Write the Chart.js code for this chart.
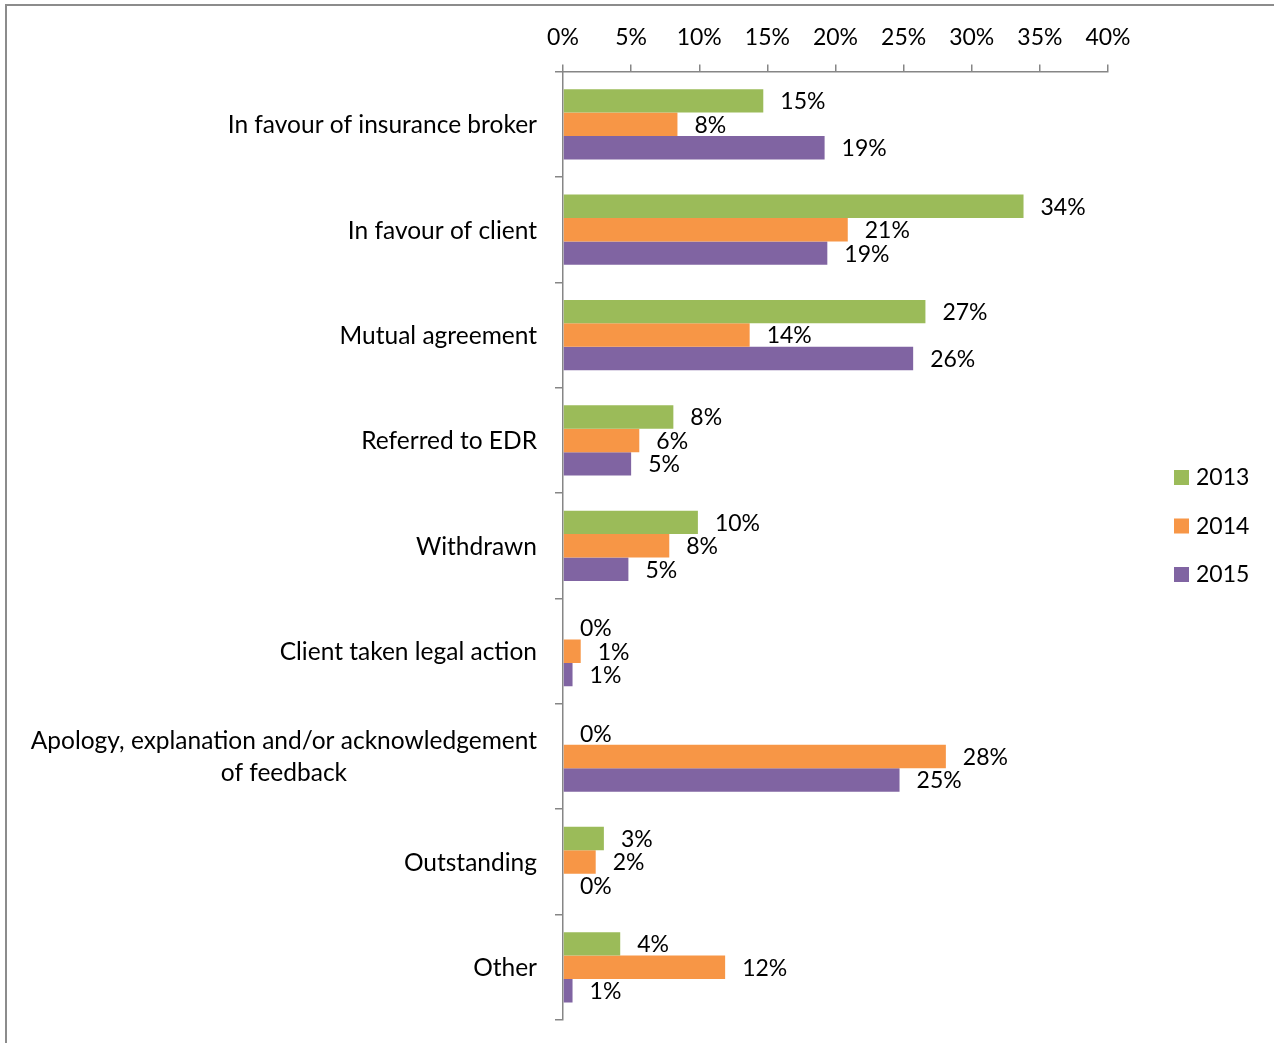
<!DOCTYPE html>
<html>
<head>
<meta charset="utf-8">
<script src="https://cdn.jsdelivr.net/npm/chart.js@4.4.1/dist/chart.umd.min.js"></script>
<style>
  html, body { margin: 0; padding: 0; background: #fff; }
  #wrap { position: relative; width: 1274px; height: 1043px; overflow: hidden; }
  #frame { position: absolute; left: 5px; top: 4px; width: 1300px; height: 1100px;
           border-left: 2px solid #8c8c8c; border-top: 2px solid #8c8c8c; }
  canvas { position: absolute; left: 0; top: 0; }
</style>
</head>
<body>
<div id="wrap">
  <div id="frame"></div>
  <canvas id="chart" width="1274" height="1043"></canvas>
</div>
<script>
var categories = [
  ["In favour of insurance broker"],
  ["In favour of client"],
  ["Mutual agreement"],
  ["Referred to EDR"],
  ["Withdrawn"],
  ["Client taken legal action"],
  ["Apology, explanation and/or acknowledgement", "of feedback"],
  ["Outstanding"],
  ["Other"]
];
var years = ["2013", "2014", "2015"];
var values2013 = [14.7, 33.8, 26.6, 8.1, 9.9, 0, 0, 3.0, 4.2];
var values2014 = [8.4, 20.9, 13.7, 5.6, 7.8, 1.3, 28.1, 2.4, 11.9];
var values2015 = [19.2, 19.4, 25.7, 5.0, 4.8, 0.7, 24.7, 0, 0.7];
var xTicks = [0, 5, 10, 15, 20, 25, 30, 35, 40];

var colors = ["#9bbb59", "#f79646", "#8064a2"];
var fontFamily = "Lato, 'Open Sans', sans-serif";
var axisGray = "#868686";

// value labels at the end of each bar
var barLabels = {
  id: "barLabels",
  afterDatasetsDraw: function (chart) {
    var ctx = chart.ctx;
    ctx.save();
    ctx.font = "23px " + fontFamily;
    ctx.fillStyle = "#000";
    ctx.textAlign = "left";
    ctx.textBaseline = "middle";
    chart.data.datasets.forEach(function (ds, i) {
      chart.getDatasetMeta(i).data.forEach(function (bar, j) {
        ctx.fillText(Math.round(ds.data[j]) + "%", bar.x + 17, bar.y + 1);
      });
    });
    ctx.restore();
  }
};

// category names, right aligned block with centred lines
var categoryLabels = {
  id: "categoryLabels",
  afterDraw: function (chart) {
    var ctx = chart.ctx;
    var yScale = chart.scales.y;
    var right = chart.chartArea.left - 26;
    var lineH = 32;
    ctx.save();
    ctx.font = "24.5px " + fontFamily;
    ctx.fillStyle = "#000";
    ctx.textAlign = "center";
    ctx.textBaseline = "middle";
    categories.forEach(function (lines, i) {
      var w = 0;
      lines.forEach(function (l) { w = Math.max(w, ctx.measureText(l).width); });
      var cx = right - w / 2;
      var cy = yScale.getPixelForValue(i) + 1;
      var y0 = cy - (lines.length - 1) * lineH / 2;
      lines.forEach(function (l, k) {
        ctx.fillText(l, cx, y0 + k * lineH);
      });
    });
    ctx.restore();
  }
};

// legend on the right
var sideLegend = {
  id: "sideLegend",
  afterDraw: function (chart) {
    var ctx = chart.ctx;
    ctx.save();
    ctx.font = "23px " + fontFamily;
    ctx.textAlign = "left";
    ctx.textBaseline = "middle";
    chart.data.datasets.forEach(function (ds, i) {
      var y = 477 + i * 48.5;
      ctx.fillStyle = ds.backgroundColor;
      ctx.fillRect(1174, y - 7, 15, 15);
      ctx.fillStyle = "#000";
      ctx.fillText(ds.label, 1196, y + 1);
    });
    ctx.restore();
  }
};

var ctx = document.getElementById("chart").getContext("2d");
var myChart = new Chart(ctx, {
  type: "bar",
  data: {
    labels: categories.map(function (c) { return c.join(" "); }),
    datasets: [
      { label: years[0], data: values2013, backgroundColor: colors[0] },
      { label: years[1], data: values2014, backgroundColor: colors[1] },
      { label: years[2], data: values2015, backgroundColor: colors[2] }
    ]
  },
  options: {
    indexAxis: "y",
    responsive: false,
    animation: false,
    layout: {
      padding: { left: 555, right: 166, top: 11, bottom: 23 }
    },
    datasets: {
      bar: { categoryPercentage: 0.667, barPercentage: 1.0 }
    },
    plugins: {
      legend: { display: false },
      tooltip: { enabled: false }
    },
    scales: {
      x: {
        position: "top",
        min: 0,
        max: 40,
        afterBuildTicks: function (scale) {
          scale.ticks = xTicks.map(function (v) { return { value: v }; });
        },
        ticks: {
          padding: 13,
          color: "#000",
          font: { family: fontFamily, size: 23 },
          callback: function (v) { return v + "%"; }
        },
        grid: { drawOnChartArea: false, drawTicks: true, tickLength: 7, color: axisGray, lineWidth: 1.5 },
        border: { display: true, color: axisGray, width: 1.5 }
      },
      y: {
        ticks: { display: false },
        grid: { drawOnChartArea: false, drawTicks: true, tickLength: 8, color: axisGray, lineWidth: 1.5, offset: true },
        border: { display: true, color: axisGray, width: 1.5 }
      }
    }
  },
  plugins: [barLabels, categoryLabels, sideLegend]
});
</script>
</body>
</html>
